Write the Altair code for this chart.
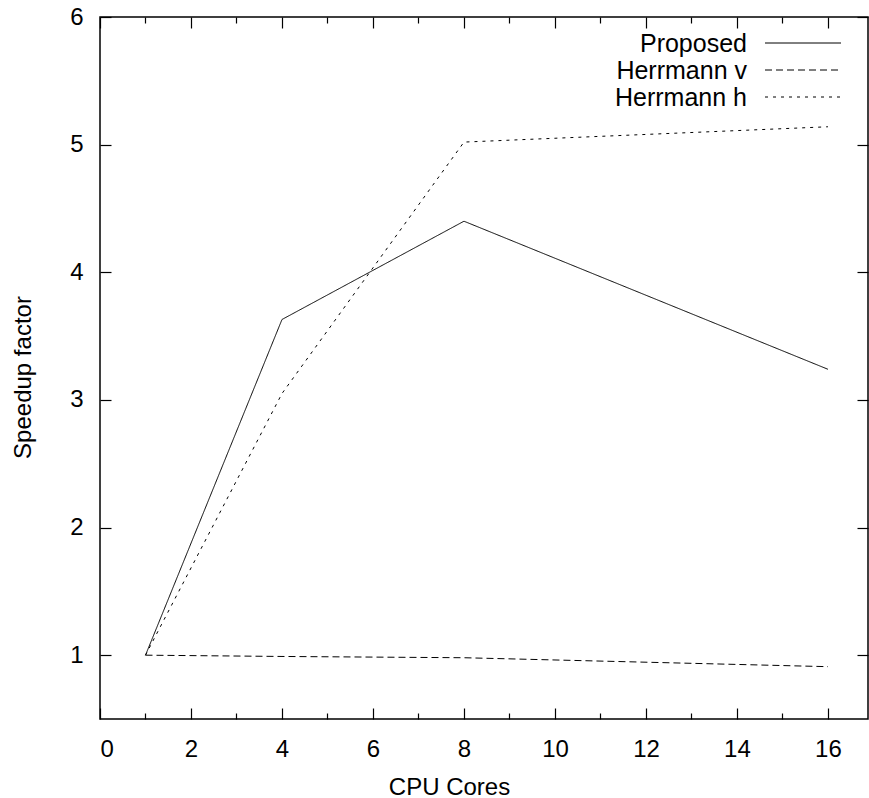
import altair as alt
import pandas as pd

# Measured speedup per number of CPU cores
cores = [1, 4, 8, 16]
proposed = [1.0, 3.63, 4.40, 3.24]
herrmann_v = [1.0, 0.99, 0.98, 0.91]
herrmann_h = [1.0, 3.05, 5.02, 5.14]

series_names = ["Proposed", "Herrmann v", "Herrmann h"]
series_dashes = [[1, 0], [7, 4], [3, 5]]

x_major = [0, 2, 4, 6, 8, 10, 12, 14, 16]
x_minor = [1, 3, 5, 7, 9, 11, 13, 15]
y_major = [1, 2, 3, 4, 5, 6]

FONT = "Liberation Sans"
W, H = 768, 702

rows = []
for name, vals in zip(series_names, [proposed, herrmann_v, herrmann_h]):
    for c, v in zip(cores, vals):
        rows.append({"cores": c, "speedup": v, "series": name})
df = pd.DataFrame(rows)

x_scale = alt.Scale(domain=[0, 16.88], nice=False, zero=False)
y_scale = alt.Scale(domain=[0.5, 6], nice=False, zero=False)


def tick_axis(orient, values, size):
    # ticks drawn inside the frame: axis shifted inward by its tick length
    return alt.Axis(orient=orient, values=values, tickSize=size, offset=-size,
                    labels=False, domain=False, grid=False, title=None,
                    ticks=True, tickColor="black", tickWidth=1.2)


label_x = alt.Axis(orient="bottom", values=x_major, ticks=False, tickSize=0,
                   domain=False, grid=False, labelPadding=18,
                   labelFont=FONT, labelFontSize=24, labelColor="black",
                   title="CPU Cores", titleFont=FONT, titleFontSize=24,
                   titleFontWeight="normal", titleColor="black",
                   titleX=349, titleY=75, titleBaseline="alphabetic",
                   titleAlign="center")
label_y = alt.Axis(orient="left", values=y_major, ticks=False, tickSize=0,
                   domain=False, grid=False, labelPadding=17,
                   labelFont=FONT, labelFontSize=24, labelColor="black",
                   title="Speedup factor", titleFont=FONT, titleFontSize=24,
                   titleFontWeight="normal", titleColor="black",
                   titleX=-70, titleY=360, titleBaseline="alphabetic",
                   titleAlign="center", titleAngle=270)

base = alt.Chart(df)

lines = base.mark_line(color="black", strokeWidth=1).encode(
    x=alt.X("cores:Q", scale=x_scale, axis=label_x),
    y=alt.Y("speedup:Q", scale=y_scale, axis=label_y),
    detail="series:N",
    strokeDash=alt.StrokeDash("series:N",
                              scale=alt.Scale(domain=series_names, range=series_dashes),
                              legend=None),
)

ticks_a = base.mark_point(opacity=0).encode(
    x=alt.X("cores:Q", scale=x_scale, axis=tick_axis("bottom", x_major, 11)),
    y=alt.Y("speedup:Q", scale=y_scale, axis=tick_axis("left", y_major, 11)),
)
ticks_b = base.mark_point(opacity=0).encode(
    x=alt.X("cores:Q", scale=x_scale, axis=tick_axis("bottom", x_minor, 6)),
    y=alt.Y("speedup:Q", scale=y_scale, axis=tick_axis("right", y_major, 11)),
)
ticks_c = base.mark_point(opacity=0).encode(
    x=alt.X("cores:Q", scale=x_scale, axis=tick_axis("top", x_major, 11)),
    y=alt.Y("speedup:Q", scale=y_scale, axis=None),
)
ticks_d = base.mark_point(opacity=0).encode(
    x=alt.X("cores:Q", scale=x_scale, axis=tick_axis("top", x_minor, 6)),
    y=alt.Y("speedup:Q", scale=y_scale, axis=None),
)

# key in the upper right corner: right-aligned names followed by line samples
key_layers = []
for i, (name, dash) in enumerate(zip(series_names, series_dashes)):
    key_df = pd.DataFrame({"name": [name]})
    row_y = 26 + 27 * i
    key_layers.append(
        alt.Chart(key_df).mark_text(align="right", baseline="alphabetic",
                                    font=FONT, fontSize=25, color="black").encode(
            text="name:N", x=alt.value(647), y=alt.value(row_y + 9))
    )
    key_layers.append(
        alt.Chart(key_df).mark_rule(color="black", strokeWidth=1, strokeDash=dash).encode(
            x=alt.value(665), x2=alt.value(741), y=alt.value(row_y))
    )

chart = alt.layer(ticks_a, ticks_b, ticks_c, ticks_d, lines, *key_layers).resolve_axis(
    x="independent", y="independent"
).properties(
    width=W, height=H,
    autosize=alt.AutoSizeParams(type="none"),
    padding={"left": 100, "top": 17, "right": 1, "bottom": 79},
    background="white",
).configure_view(
    stroke="black", strokeWidth=1.5
)

chart.save("out.html", embed_options={"renderer": "svg", "actions": False})
